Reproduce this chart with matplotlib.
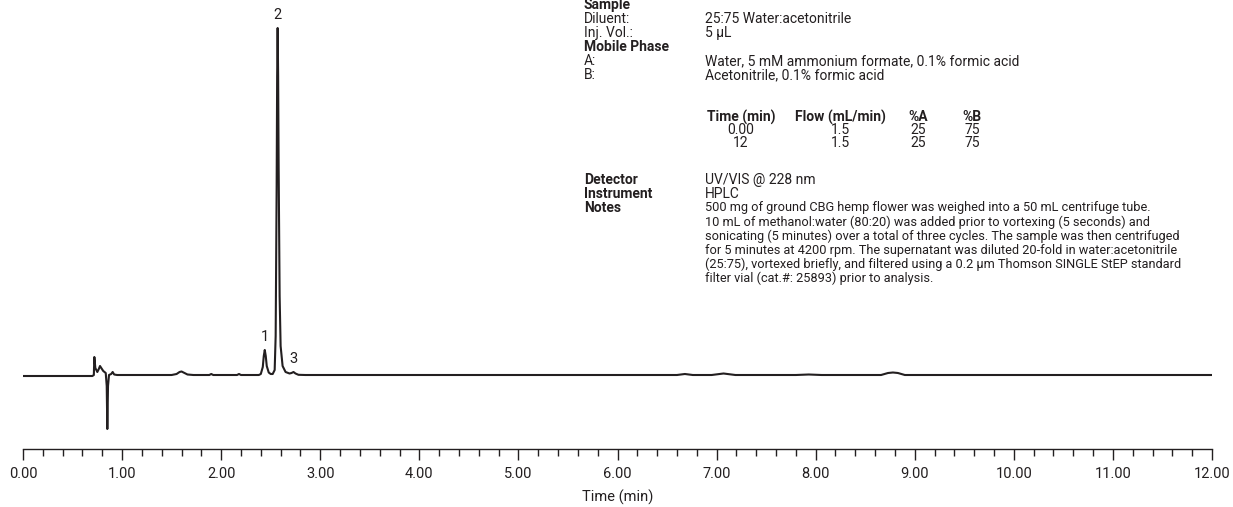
import matplotlib
matplotlib.use("Agg")
import matplotlib.pyplot as plt
from matplotlib.ticker import MultipleLocator, FormatStrFormatter

plt.rcParams['font.family'] = ['Liberation Sans Narrow', 'Roboto', 'DejaVu Sans']

# ==================================================
# Chromatogram trace
# ==================================================
time_min = [0.00, 0.70, 0.715, 0.72, 0.73, 0.75, 0.765, 0.777, 0.79, 0.81, 0.835,
            0.845, 0.851, 0.858, 0.868, 0.89, 0.905, 0.92, 0.95, 1.20, 1.50,
            1.55, 1.58, 1.60, 1.62, 1.66, 1.72, 1.88, 1.90, 1.92, 2.16, 2.18, 2.20,
            2.38, 2.40, 2.42, 2.43, 2.44, 2.45, 2.46, 2.48, 2.50, 2.52, 2.54, 2.55,
            2.56, 2.565, 2.57, 2.575, 2.58, 2.59, 2.60, 2.62, 2.65, 2.69, 2.71,
            2.73, 2.75, 2.78, 2.85, 5.00, 6.60, 6.68, 6.76, 6.95, 7.07, 7.19,
            7.80, 7.93, 8.06, 8.66, 8.73, 8.78, 8.83, 8.90, 10.00, 12.00]
signal = [0.0, 0.0, 1.0, 19.0, 8.0, 4.0, 7.0, 10.0, 8.0, 5.0, 3.0,
          -10.0, -53.0, -10.0, 1.0, 2.0, 4.0, 1.5, 1.0, 1.0, 1.0,
          2.0, 4.0, 4.5, 3.5, 1.5, 1.0, 1.0, 2.0, 1.0, 1.0, 2.0, 1.0,
          1.0, 2.0, 9.0, 20.0, 26.0, 20.0, 10.0, 3.5, 2.0, 2.0, 6.0, 40.0,
          190.0, 300.0, 348.0, 300.0, 210.0, 80.0, 30.0, 10.0, 4.0, 2.5, 3.0,
          4.0, 2.5, 1.2, 1.0, 1.0, 1.0, 2.0, 1.0, 1.0, 2.5, 1.0,
          1.0, 1.5, 1.0, 1.0, 3.0, 3.5, 3.0, 1.0, 1.0, 1.0]

peak_ids = ["1", "2", "3"]
peak_rt = [2.44, 2.57, 2.73]
peak_top = [26.0, 348.0, 4.0]

x_ticks_major = 1.0
x_ticks_minor = 0.2

# ==================================================
# Method text
# ==================================================
sample_rows = [("Diluent:", "25:75 Water:acetonitrile"), ("Inj. Vol.:", "5 µL")]
phase_rows = [("A:", "Water, 5 mM ammonium formate, 0.1% formic acid"),
              ("B:", "Acetonitrile, 0.1% formic acid")]
gradient_header = ["Time (min)", "Flow (mL/min)", "%A", "%B"]
gradient_rows = [["0.00", "1.5", "25", "75"], ["12", "1.5", "25", "75"]]
info_rows = [("Detector", "UV/VIS @ 228 nm"), ("Instrument", "HPLC")]
notes_lines = [
    "500 mg of ground CBG hemp flower was weighed into a 50 mL centrifuge tube.",
    "10 mL of methanol:water (80:20) was added prior to vortexing (5 seconds) and",
    "sonicating (5 minutes) over a total of three cycles. The sample was then centrifuged",
    "for 5 minutes at 4200 rpm. The supernatant was diluted 20-fold in water:acetonitrile",
    "(25:75), vortexed briefly, and filtered using a 0.2 µm Thomson SINGLE StEP standard",
    "filter vial (cat.#: 25893) prior to analysis.",
]

W, H = 1233, 507
ink = "#231f20"
fig = plt.figure(figsize=(W / 100, H / 100), dpi=100)


def fx(px):
    return px / W


def fy(py):
    return 1 - py / H


ax = fig.add_axes([fx(23), fy(449), fx(1212) - fx(23), fy(10) - fy(449)])
ax.plot(time_min, signal, color=ink, lw=1.5, solid_joinstyle="round")
ax.set_xlim(0, 12)
ax.set_ylim(-73, 366)
for s in ["left", "right", "top"]:
    ax.spines[s].set_visible(False)
ax.spines["bottom"].set_color(ink)
ax.spines["bottom"].set_linewidth(1.0)
ax.set_yticks([])
ax.xaxis.set_major_locator(MultipleLocator(x_ticks_major))
ax.xaxis.set_minor_locator(MultipleLocator(x_ticks_minor))
ax.xaxis.set_major_formatter(FormatStrFormatter("%.2f"))
ax.tick_params(axis="x", which="major", length=8, width=1.0, color=ink,
               labelsize=10.5, labelcolor=ink, pad=5)
ax.tick_params(axis="x", which="minor", length=5, width=1.0, color=ink)
ax.set_xlabel("Time (min)", fontsize=10.5, color=ink, labelpad=6)

for pid, rt, top in zip(peak_ids, peak_rt, peak_top):
    ax.annotate(pid, (rt, top), xytext=(0, 4), textcoords="offset points",
                ha="center", va="bottom", fontsize=10.5, color=ink)

# text block
fs = 10
lx, vx = 584, 705
line = 14


def put(x, y, s, bold=False, ha="left", size=fs):
    fig.text(fx(x), fy(y), s, fontsize=size, color=ink, ha=ha, va="center",
             fontweight="bold" if bold else "normal")


y = 5
put(lx, y, "Sample", bold=True)
for lab, val in sample_rows:
    y += line
    put(lx, y, lab)
    put(vx, y, val)
y += line
put(lx, y, "Mobile Phase", bold=True)
for lab, val in phase_rows:
    y += line
    put(lx, y, lab)
    put(vx, y, val)

col_centers = [741, 840, 918, 972]
y = 117
for cx, h in zip(col_centers, gradient_header):
    put(cx, y, h, bold=True, ha="center")
for row in gradient_rows:
    y += 13
    for cx, v in zip(col_centers, row):
        put(cx, y, v, ha="center")

y = 180
for lab, val in info_rows:
    put(lx, y, lab, bold=True)
    put(vx, y, val)
    y += line
put(lx, y, "Notes", bold=True)
for ln in notes_lines:
    put(vx, y, ln, size=9.2)
    y += line

fig.savefig("out.png", dpi=100)
